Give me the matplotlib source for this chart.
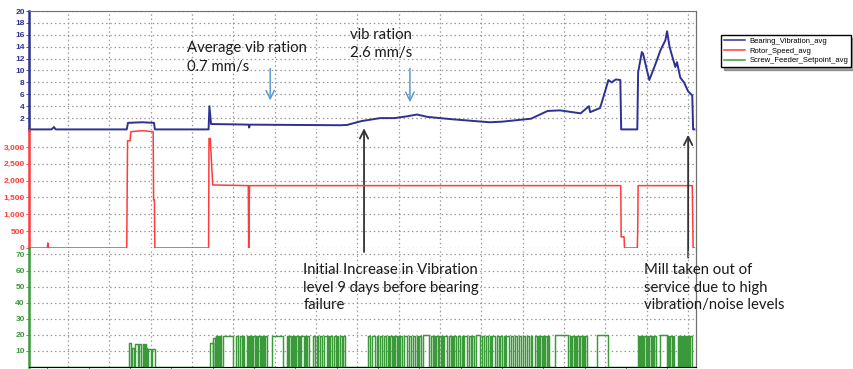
"""Mill bearing vibration trend: vibration, rotor speed and screw feeder setpoint."""

import numpy as np
import matplotlib.pyplot as plt
from matplotlib.lines import Line2D

# time axis in days, one vertical gridline per day
day_ticks = list(range(1, 17))

# Bearing_Vibration_avg (mm/s)
vib_t = [0.06, 0.60, 0.66, 0.70, 2.42, 2.45, 2.80, 3.08, 3.10, 4.40, 4.42, 4.46, 5.00, 5.37,
         5.38, 5.40, 6.50, 7.60, 7.75, 8.10, 8.55, 8.90, 9.20, 9.44, 9.70, 10.30, 11.20, 11.50,
         12.20, 12.60, 12.90, 13.20, 13.40, 13.60, 13.63, 13.87, 14.00, 14.07, 14.15, 14.25,
         14.36, 14.38, 14.77, 14.79, 14.88, 14.91, 15.06, 15.20, 15.33, 15.45, 15.49, 15.55,
         15.61, 15.69, 15.73, 15.81, 15.90, 16.00, 16.10, 16.12, 16.15]
vib_v = [0.1, 0.1, 0.5, 0.1, 0.1, 1.2, 1.3, 1.2, 0.1, 0.1, 4.0, 1.0, 0.95, 0.9,
         0.4, 0.9, 0.85, 0.8, 0.85, 1.5, 2.0, 2.0, 2.3, 2.6, 2.2, 1.8, 1.3, 1.4,
         1.9, 3.2, 3.3, 3.0, 2.8, 4.0, 3.0, 3.7, 6.7, 8.4, 8.0, 8.5,
         8.4, 0.1, 0.1, 9.7, 13.1, 12.8, 8.4, 10.9, 13.4, 15.1, 16.6, 14.0,
         12.5, 10.6, 11.4, 8.8, 8.0, 6.5, 5.8, 0.1, 0.1]

# Rotor_Speed_avg (rpm)
rotor_t = [0.06, 0.50, 0.51, 0.53, 2.42, 2.44, 2.50, 2.52, 2.80, 3.06, 3.07, 3.09, 3.10, 4.40,
           4.41, 4.44, 4.50, 5.36, 5.37, 5.39, 14.37, 14.38, 14.45, 14.46, 14.77, 14.78,
           14.79, 16.10, 16.12, 16.15]
rotor_v = [0, 0, 150, 0, 0, 3180, 3180, 3450, 3480, 3450, 1430, 1430, 0, 0,
           3250, 3250, 1870, 1850, 0, 1850, 1850, 330, 330, 0, 0, 530,
           1850, 1850, 0, 0]

# Screw_Feeder_Setpoint_avg: pulses (start day, width in days, level)
feed_start = [2.48, 2.55, 2.62, 2.72, 2.82, 2.85, 2.89, 2.94, 3.03,
              4.44, 4.51, 4.57, 4.61, 4.64, 4.68, 4.75, 5.07, 5.16, 5.24,
              5.33, 5.37, 5.40, 5.44, 5.48, 5.55, 5.60, 5.67, 5.72, 5.77,
              5.94, 6.30, 6.35, 6.42, 6.47, 6.52, 6.59, 6.64, 6.73, 6.78,
              6.93, 7.02, 7.10, 7.19, 7.29, 7.34, 7.44, 7.51, 7.58, 7.65,
              8.26, 8.35, 8.48, 8.55, 8.65, 8.74, 8.79, 8.86, 8.91, 8.98,
              9.03, 9.13, 9.25, 9.35, 9.44, 9.49, 9.59, 9.78, 9.86, 9.90,
              9.98, 10.05, 10.10, 10.22, 10.29, 10.34, 10.44, 10.53, 10.58, 10.70,
              10.78, 10.87, 11.02, 11.11, 11.21, 11.26, 11.38, 11.45, 11.55, 11.60,
              11.72, 11.82, 11.91, 12.01, 12.11, 12.20, 12.30, 12.37, 12.42, 12.49,
              12.54, 12.61, 12.78, 13.15, 13.19, 13.27, 13.31, 13.39, 13.46, 13.51,
              13.80, 14.79, 14.83, 14.86, 14.90, 14.94, 15.01, 15.06, 15.13, 15.18,
              15.33, 15.52, 15.57, 15.64, 15.76, 15.79, 15.83, 15.87, 15.90, 15.95,
              16.00, 16.05]
feed_width = [0.05, 0.05, 0.07, 0.05, 0.02, 0.03, 0.02, 0.07, 0.07,
              0.07, 0.05, 0.02, 0.02, 0.02, 0.02, 0.24, 0.05, 0.05, 0.02,
              0.02, 0.02, 0.02, 0.02, 0.05, 0.02, 0.05, 0.02, 0.02, 0.05,
              0.27, 0.02, 0.05, 0.02, 0.02, 0.05, 0.02, 0.07, 0.02, 0.05,
              0.05, 0.02, 0.05, 0.07, 0.02, 0.05, 0.05, 0.02, 0.05, 0.05,
              0.05, 0.07, 0.02, 0.05, 0.05, 0.02, 0.05, 0.02, 0.05, 0.02,
              0.05, 0.07, 0.05, 0.05, 0.02, 0.05, 0.15, 0.05, 0.02, 0.05,
              0.05, 0.02, 0.07, 0.05, 0.02, 0.05, 0.05, 0.02, 0.07, 0.05,
              0.05, 0.10, 0.05, 0.05, 0.02, 0.07, 0.05, 0.05, 0.02, 0.07,
              0.05, 0.05, 0.05, 0.05, 0.05, 0.02, 0.05, 0.02, 0.05, 0.02,
              0.05, 0.02, 0.31, 0.02, 0.05, 0.02, 0.05, 0.05, 0.02, 0.05,
              0.27, 0.02, 0.02, 0.02, 0.02, 0.05, 0.02, 0.05, 0.02, 0.05,
              0.17, 0.02, 0.05, 0.02, 0.02, 0.02, 0.02, 0.02, 0.02, 0.02,
              0.02, 0.05]
feed_level = [15, 12, 14, 14, 14, 14, 12, 11, 11,
              15, 18, 19.5, 19.5, 19.5, 19.5, 19.5, 19.5, 19.5, 19.5,
              19.5, 19.5, 19.5, 19.5, 19.5, 19.5, 19.5, 19.5, 19.5, 19.5,
              19.5, 19.5, 19.5, 19.5, 19.5, 19.5, 19.5, 19.5, 19.5, 19.5,
              19.5, 19.5, 19.5, 19.5, 19.5, 19.5, 19.5, 19.5, 19.5, 19.5,
              19.5, 19.5, 19.5, 19.5, 19.5, 19.5, 19.5, 19.5, 19.5, 19.5,
              19.5, 19.5, 19.5, 19.5, 19.5, 19.5, 20, 19.5, 19.5, 19.5,
              19.5, 19.5, 19.5, 19.5, 19.5, 19.5, 19.5, 19.5, 19.5, 19.5,
              19.5, 20, 19.5, 19.5, 19.5, 19.5, 19.5, 19.5, 19.5, 19.5,
              19.5, 19.5, 19.5, 19.5, 19.5, 19.5, 19.5, 19.5, 19.5, 19.5,
              19.5, 19.5, 20, 19.5, 19.5, 19.5, 19.5, 19.5, 19.5, 19.5,
              20, 19.5, 19.5, 19.5, 19.5, 19.5, 19.5, 19.5, 19.5, 19.5,
              20, 19.5, 19.5, 19.5, 19.5, 19.5, 19.5, 19.5, 19.5, 19.5,
              19.5, 19.5]

vib_ticks = [2, 4, 6, 8, 10, 12, 14, 16, 18, 20]
rotor_ticks = [0, 500, 1000, 1500, 2000, 2500, 3000]
feed_ticks = [10, 20, 30, 40, 50, 60, 70]

series_names = ["Bearing_Vibration_avg", "Rotor_Speed_avg", "Screw_Feeder_Setpoint_avg"]

BLUE = "#2e3192"
RED = "#ff3b3b"
GREEN = "#3a9a3a"
GRID = "#9a9a9a"

plt.rcParams["font.family"] = ["Liberation Sans", "DejaVu Sans"]

W_PX, H_PX = 854, 369
fig = plt.figure(figsize=(W_PX / 100, H_PX / 100), dpi=100)
left = 29 / W_PX
width = (696 - 29) / W_PX


def panel(top_px, bottom_px):
    return fig.add_axes([left, 1 - bottom_px / H_PX, width, (bottom_px - top_px) / H_PX])


ax_v = panel(11, 130)
ax_r = panel(130, 248)
ax_g = panel(248, 367)

xlim = (0.056, 16.19)


def style(ax, ticks, ylim, color, labels):
    ax.set_xlim(*xlim)
    ax.set_ylim(*ylim)
    ax.set_xticks(day_ticks)
    ax.set_yticks(ticks)
    ax.set_yticklabels(labels, color=color, fontsize=6, fontweight="bold")
    ax.tick_params(axis="y", length=2, width=0.6, color=color, pad=1)
    ax.tick_params(axis="x", length=0, labelbottom=False)
    ax.grid(True, linestyle=(0, (1.2, 2.2)), color=GRID, linewidth=0.9)
    ax.set_axisbelow(True)
    for s in ("top", "bottom"):
        ax.spines[s].set_visible(False)
    ax.spines["left"].set_color(color)
    ax.spines["left"].set_linewidth(1.8)
    ax.spines["right"].set_color("#707070")
    ax.spines["right"].set_linewidth(0.9)
    ax.patch.set_alpha(0)


style(ax_v, vib_ticks, (0, 20), BLUE, [str(t) for t in vib_ticks])
style(ax_r, rotor_ticks, (0, 3500), RED, [f"{t:,}" for t in rotor_ticks])
style(ax_g, feed_ticks, (0, 74), GREEN, [str(t) for t in feed_ticks])
ax_v.spines["top"].set_visible(True)
ax_v.spines["top"].set_color("#707070")
ax_g.spines["bottom"].set_visible(True)
ax_g.spines["bottom"].set_color("black")
ax_g.set_xticks(np.arange(0.5, 16.2, 0.5), minor=True)
ax_g.tick_params(axis="x", which="minor", length=2, width=0.6, color="#555555")

ax_v.plot(vib_t, vib_v, color=BLUE, lw=1.4, solid_joinstyle="round", clip_on=False)
ax_r.plot(rotor_t, rotor_v, color=RED, lw=1.1)

# feeder: build a square-wave from the pulse list
gx, gy = [xlim[0]], [0]
for s, w, lv in zip(feed_start, feed_width, feed_level):
    gx += [s, s, s + w, s + w]
    gy += [0, lv, lv, 0]
gx.append(xlim[1])
gy.append(0)
ax_g.plot(gx, gy, color=GREEN, lw=1.05)

# annotations
txt = dict(fontsize=10.7, color="#1a1a1a", family=["Lato", "DejaVu Sans"], va="top", ha="left")
ax_v.text(3.88, 14.9, "Average vib ration\n0.7 mm/s", linespacing=1.4, **txt)
ax_v.text(7.82, 17.2, "vib ration\n2.6 mm/s", linespacing=1.4, **txt)
ax_g.text(6.69, 64.5, "Initial Increase in Vibration\nlevel 9 days before bearing\nfailure",
          linespacing=1.3, **txt)
ax_g.text(14.94, 64.5, "Mill taken out of\nservice due to high\nvibration/noise levels",
          linespacing=1.3, **txt)

blue_arrow = dict(arrowstyle="->,head_length=0.6,head_width=0.3", color="#5b9bd5", lw=1.1)
ax_v.annotate("", xy=(5.89, 4.5), xytext=(5.89, 10.8), arrowprops=blue_arrow)
ax_v.annotate("", xy=(9.27, 4.2), xytext=(9.27, 10.8), arrowprops=blue_arrow)

black_arrow = dict(arrowstyle="->,head_length=0.6,head_width=0.3", color="#333333", lw=1.3,
                   shrinkA=0, shrinkB=0)
ax_v.annotate("", xy=(8.16, 0.3), xycoords=ax_v.transData,
              xytext=(8.16, 71.5), textcoords=ax_g.transData, arrowprops=black_arrow)
ax_r.annotate("", xy=(16.0, 3360), xycoords=ax_r.transData,
              xytext=(16.0, 68.0), textcoords=ax_g.transData, arrowprops=black_arrow)

handles = [Line2D([], [], color=c, lw=1.1) for c in (BLUE, RED, GREEN)]
fig.legend(handles, series_names, loc="upper left", bbox_to_anchor=(721 / W_PX, 1 - 35 / H_PX),
           fontsize=5.5, frameon=True, fancybox=False, shadow=True, edgecolor="black",
           borderaxespad=0, borderpad=0.35, labelspacing=0.3, handlelength=2.8,
           handletextpad=0.6)

fig.savefig("out.png", dpi=100)
